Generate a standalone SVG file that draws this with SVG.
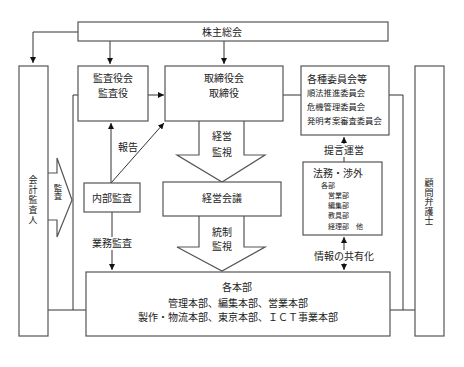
<svg xmlns="http://www.w3.org/2000/svg" width="464" height="367" viewBox="0 0 464 367">
<defs>
<marker id="ah" viewBox="0 0 8 8" refX="8" refY="4" markerWidth="6" markerHeight="6" orient="auto-start-reverse" markerUnits="userSpaceOnUse">
<path d="M0,0 L8,4 L0,8 Z" fill="#111"/>
</marker>
<style>
.box{fill:#fff;stroke:#555;stroke-width:1.2}
.ln{fill:none;stroke:#333;stroke-width:1}
.bg{fill:#fff}
.t{font-family:"Noto Sans CJK JP","Noto Sans CJK SC",sans-serif;font-size:10px;fill:#222;text-anchor:middle}
.v{font-family:"Noto Sans CJK JP","Noto Sans CJK SC",sans-serif;font-size:9px;fill:#222;text-anchor:middle;writing-mode:vertical-rl}
.s{font-family:"Noto Sans CJK JP","Noto Sans CJK SC",sans-serif;font-size:8.3px;fill:#222}
.xs{font-family:"Noto Sans CJK JP","Noto Sans CJK SC",sans-serif;font-size:7px;fill:#222}
</style>
</defs>
<rect width="464" height="367" fill="#fff"/>
<g id="connectors">
<path class="ln" d="M78,32 H33 V63" marker-end="url(#ah)"/>
<path class="ln" d="M110,41 V64" marker-end="url(#ah)"/>
<path class="ln" d="M224,41 V64" marker-end="url(#ah)"/>
<path class="ln" d="M148,95 H164" marker-end="url(#ah)"/>
<path class="ln" d="M283,95 H301"/>
<path class="ln" d="M389,95 H403 V310"/>
<path class="ln" d="M390,310 H415"/>
<path class="ln" d="M78,95 H73 V310"/>
<path class="ln" d="M48,310 H86"/>
<path class="ln" d="M111,183 V123" marker-end="url(#ah)"/>
<path class="ln" d="M111,183 L164,123" marker-end="url(#ah)"/>
<path class="ln" d="M112,212 V270" marker-end="url(#ah)"/>
<path class="ln" d="M344,162 V137" marker-end="url(#ah)"/>
<path class="ln" d="M344,237 V270" marker-start="url(#ah)" marker-end="url(#ah)"/>
<path class="box" d="M199,121 V155 H177 L222,182 L265,155 H244 V121"/>
<path class="box" d="M199,216 V247 H177 L222,271 L265,247 H244 V216"/>
<path class="box" d="M48,173 H57 V158 L72,200 L57,237 V220 H48"/>
<text class="t" x="222" y="139.5">経営</text>
<text class="t" x="222" y="155.5">監視</text>
<text class="t" x="222" y="235.5">統制</text>
<text class="t" x="222" y="250">監視</text>
<text class="v" x="58" y="192" style="font-size:8.5px">監査</text>
<text class="t" x="128" y="150.5">報告</text>
<rect class="bg" x="92" y="237" width="40" height="13"/>
<text class="t" x="112" y="246.5">業務監査</text>
<rect class="bg" x="324" y="144" width="40" height="13"/>
<text class="t" x="344" y="153.5">提言運営</text>
<rect class="bg" x="314" y="250" width="60" height="13"/>
<text class="t" x="344" y="259.5">情報の共有化</text>
</g>
<g id="shareholders">
<rect class="box" x="78" y="22" width="310" height="19"/>
<text class="t" x="222" y="35.5">株主総会</text>
</g>
<g id="auditor">
<rect class="box" x="19" y="66" width="29" height="270"/>
<text class="v" x="33" y="200" style="letter-spacing:1px">会計監査人</text>
</g>
<g id="kansayaku">
<rect class="box" x="78" y="66" width="70" height="55"/>
<text class="t" x="113" y="82">監査役会</text>
<text class="t" x="113" y="96.7">監査役</text>
</g>
<g id="torishimariyaku">
<rect class="box" x="165" y="66" width="118" height="55"/>
<text class="t" x="224" y="82">取締役会</text>
<text class="t" x="224" y="96.7">取締役</text>
</g>
<g id="committees">
<rect class="box" x="301" y="66" width="88" height="69"/>
<text class="t" x="337" y="82.5">各種委員会等</text>
<text class="s" x="307" y="96">順法推進委員会</text>
<text class="s" x="307" y="110">危機管理委員会</text>
<text class="s" x="307" y="124">発明考案審査委員会</text>
</g>
<g id="lawyer">
<rect class="box" x="415" y="66" width="29" height="270"/>
<text class="v" x="429" y="202" style="letter-spacing:0.5px">顧問弁護士</text>
</g>
<g id="naibukansa">
<rect class="box" x="84" y="183" width="56" height="29"/>
<text class="t" x="112" y="201.5">内部監査</text>
</g>
<g id="keieikaigi">
<rect class="box" x="163" y="182" width="118" height="34"/>
<text class="t" x="222" y="201.5">経営会議</text>
</g>
<g id="houmu">
<rect class="box" x="303" y="162" width="79" height="73"/>
<text class="xs"><tspan x="313" y="176.5" style="font-size:10px">法務・渉外</tspan><tspan x="321" y="187.7">各部</tspan><tspan x="328" y="197.9">営業部</tspan><tspan x="328" y="208.1">編集部</tspan><tspan x="328" y="218.3">教具部</tspan><tspan x="328" y="228.5">経理部　他</tspan></text>
</g>
<g id="honbu">
<rect class="box" x="86" y="272" width="304" height="64"/>
<text class="t" x="237" y="290.5">各本部</text>
<text class="t" x="238" y="306.5">管理本部、編集本部、営業本部</text>
<text class="t" x="238" y="321.2">製作・物流本部、東京本部、ＩＣＴ事業本部</text>
</g>
</svg>
